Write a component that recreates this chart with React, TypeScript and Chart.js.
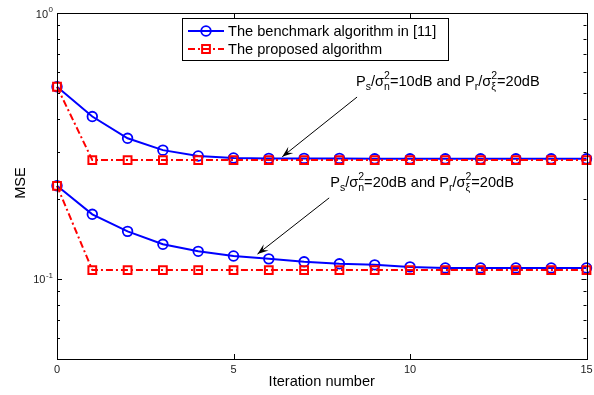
import React, { useEffect, useRef } from 'react';
import { Chart, registerables } from 'chart.js';

Chart.register(...registerables);

// ---- data ----
const iterations = [0, 1, 2, 3, 4, 5, 6, 7, 8, 9, 10, 11, 12, 13, 14, 15];
const benchmark10 = [0.528, 0.408, 0.338, 0.305, 0.29, 0.285, 0.284, 0.284, 0.284, 0.283, 0.283, 0.283, 0.283, 0.283, 0.283, 0.283];
const proposed10 = [0.528, 0.28, 0.28, 0.28, 0.28, 0.28, 0.28, 0.28, 0.28, 0.28, 0.28, 0.28, 0.28, 0.28, 0.28, 0.28];
const benchmark20 = [0.224, 0.175, 0.151, 0.135, 0.127, 0.122, 0.119, 0.116, 0.114, 0.113, 0.111, 0.11, 0.11, 0.11, 0.11, 0.11];
const proposed20 = [0.224, 0.108, 0.108, 0.108, 0.108, 0.108, 0.108, 0.108, 0.108, 0.108, 0.108, 0.108, 0.108, 0.108, 0.108, 0.108];

const xTickValues = [0, 5, 10, 15];
const yMajorTicks = [0.1, 1];
const yMajorExponents = ['-1', '0'];
const yMinorTicks = [0.05, 0.06, 0.07, 0.08, 0.09, 0.2, 0.3, 0.4, 0.5, 0.6, 0.7, 0.8, 0.9];
const legendLabels = ['The benchmark algorithm in [11]', 'The proposed algorithm'];
const xTitle = 'Iteration number';
const yTitle = 'MSE';

type Part = { t?: string; sub?: string; sup?: string };
const annotation10: Part[] = [
  { t: 'P' }, { sub: 's' }, { t: '/σ' }, { sup: '2', sub: 'n' },
  { t: '=10dB and P' }, { sub: 'r' }, { t: '/σ' }, { sup: '2', sub: 'ξ' }, { t: '=20dB' },
];
const annotation20: Part[] = [
  { t: 'P' }, { sub: 's' }, { t: '/σ' }, { sup: '2', sub: 'n' },
  { t: '=20dB and P' }, { sub: 'r' }, { t: '/σ' }, { sup: '2', sub: 'ξ' }, { t: '=20dB' },
];
// annotation anchors in data coordinates
const annotations = [
  { parts: annotation10, text: [8.47, 0.532], tail: [8.5, 0.483], tip: [6.38, 0.288] },
  { parts: annotation20, text: [7.74, 0.222], tail: [7.71, 0.2017], tip: [5.68, 0.124] },
];

const FONT = '"Liberation Sans", Arial, Helvetica, sans-serif';
const BLUE = '#0000ff';
const RED = '#ff0000';
const DASHDOT = [7, 3, 2, 3];

function drawRich(ctx: CanvasRenderingContext2D, parts: Part[], x: number, y: number) {
  const main = `14.6px ${FONT}`;
  const small = `10.5px ${FONT}`;
  ctx.fillStyle = '#000';
  ctx.textAlign = 'left';
  ctx.textBaseline = 'alphabetic';
  let cx = x;
  for (const p of parts) {
    if (p.t) {
      ctx.font = main;
      ctx.fillText(p.t, cx, y);
      cx += ctx.measureText(p.t).width;
    } else {
      ctx.font = small;
      let w = 0;
      if (p.sup) {
        ctx.fillText(p.sup, cx, y - 6.5);
        w = Math.max(w, ctx.measureText(p.sup).width);
      }
      if (p.sub) {
        ctx.fillText(p.sub, cx, y + 4);
        w = Math.max(w, ctx.measureText(p.sub).width);
      }
      cx += w;
    }
  }
}

function drawArrow(ctx: CanvasRenderingContext2D, x1: number, y1: number, x2: number, y2: number) {
  ctx.save();
  ctx.strokeStyle = '#000';
  ctx.fillStyle = '#000';
  ctx.lineWidth = 1;
  ctx.beginPath();
  ctx.moveTo(x1, y1);
  ctx.lineTo(x2, y2);
  ctx.stroke();
  const ang = Math.atan2(y2 - y1, x2 - x1);
  const len = 11;
  const half = 4;
  const bx = x2 - len * Math.cos(ang);
  const by = y2 - len * Math.sin(ang);
  const nx = -Math.sin(ang);
  const ny = Math.cos(ang);
  const ix = x2 - len * 0.6 * Math.cos(ang);
  const iy = y2 - len * 0.6 * Math.sin(ang);
  ctx.beginPath();
  ctx.moveTo(x2, y2);
  ctx.lineTo(bx + nx * half, by + ny * half);
  ctx.lineTo(ix, iy);
  ctx.lineTo(bx - nx * half, by - ny * half);
  ctx.closePath();
  ctx.fill();
  ctx.restore();
}

const decor = {
  id: 'matlabDecor',
  afterDraw(chart: any) {
    const ctx: CanvasRenderingContext2D = chart.ctx;
    const { left, right, top, bottom } = chart.chartArea;
    const xs = chart.scales.x;
    const ys = chart.scales.y;
    ctx.save();
    // box
    ctx.strokeStyle = '#000';
    ctx.lineWidth = 1;
    ctx.setLineDash([]);
    ctx.strokeRect(Math.round(left) + 0.5, Math.round(top) + 0.5, Math.round(right - left), Math.round(bottom - top));
    // ticks
    ctx.beginPath();
    for (const v of xTickValues) {
      const px = Math.round(xs.getPixelForValue(v)) + 0.5;
      ctx.moveTo(px, bottom);
      ctx.lineTo(px, bottom - 5);
      ctx.moveTo(px, top);
      ctx.lineTo(px, top + 5);
    }
    for (const v of yMajorTicks) {
      const py = Math.round(ys.getPixelForValue(v)) + 0.5;
      ctx.moveTo(left, py);
      ctx.lineTo(left + 5, py);
      ctx.moveTo(right, py);
      ctx.lineTo(right - 5, py);
    }
    for (const v of yMinorTicks) {
      const py = Math.round(ys.getPixelForValue(v)) + 0.5;
      ctx.moveTo(left, py);
      ctx.lineTo(left + 3, py);
      ctx.moveTo(right, py);
      ctx.lineTo(right - 3, py);
    }
    ctx.stroke();
    // tick labels
    ctx.fillStyle = '#222';
    ctx.font = `11px ${FONT}`;
    ctx.textAlign = 'center';
    ctx.textBaseline = 'top';
    for (const v of xTickValues) {
      ctx.fillText(String(v), xs.getPixelForValue(v), bottom + 5);
    }
    yMajorTicks.forEach((v, i) => {
      const py = ys.getPixelForValue(v);
      ctx.font = `8px ${FONT}`;
      const ew = ctx.measureText(yMajorExponents[i]).width;
      ctx.textAlign = 'left';
      ctx.textBaseline = 'alphabetic';
      const xEnd = left - 4;
      ctx.fillText(yMajorExponents[i], xEnd - ew, py - 1);
      ctx.font = `11px ${FONT}`;
      ctx.textAlign = 'right';
      ctx.textBaseline = 'middle';
      ctx.fillText('10', xEnd - ew - 0.5, py + 1.5);
    });
    // axis titles
    ctx.fillStyle = '#000';
    ctx.font = `14.6px ${FONT}`;
    ctx.textAlign = 'center';
    ctx.textBaseline = 'middle';
    ctx.fillText(xTitle, (left + right) / 2, bottom + 23);
    ctx.save();
    ctx.translate(21, (top + bottom) / 2 - 3);
    ctx.rotate(-Math.PI / 2);
    ctx.fillText(yTitle, 0, 0);
    ctx.restore();

    // legend
    const lx = 182, ly = 18, lw = 266, lh = 42;
    ctx.fillStyle = '#fff';
    ctx.fillRect(lx, ly, lw, lh);
    ctx.strokeStyle = '#000';
    ctx.lineWidth = 1;
    ctx.strokeRect(lx + 0.5, ly + 0.5, lw, lh);
    const dsets = chart.data.datasets;
    legendLabels.forEach((label, i) => {
      const ds = dsets[i];
      const ry = ly + 13 + i * 18;
      ctx.save();
      ctx.strokeStyle = ds.borderColor;
      ctx.lineWidth = ds.borderWidth;
      ctx.setLineDash(ds.borderDash || []);
      ctx.beginPath();
      ctx.moveTo(lx + 6, ry);
      ctx.lineTo(lx + 42, ry);
      ctx.stroke();
      ctx.setLineDash([]);
      ctx.lineWidth = ds.pointBorderWidth;
      ctx.beginPath();
      const mx = lx + 24;
      if (ds.pointStyle === 'rect') {
        const h = ds.pointRadius * Math.SQRT1_2;
        ctx.rect(mx - h, ry - h, 2 * h, 2 * h);
      } else {
        ctx.arc(mx, ry, ds.pointRadius, 0, Math.PI * 2);
      }
      ctx.stroke();
      ctx.restore();
      ctx.fillStyle = '#000';
      ctx.font = `14.6px ${FONT}`;
      ctx.textAlign = 'left';
      ctx.textBaseline = 'middle';
      ctx.fillText(label, lx + 46, ry + 1);
    });

    // annotations
    for (const a of annotations) {
      drawArrow(
        ctx,
        xs.getPixelForValue(a.tail[0]), ys.getPixelForValue(a.tail[1]),
        xs.getPixelForValue(a.tip[0]), ys.getPixelForValue(a.tip[1]),
      );
      drawRich(ctx, a.parts, xs.getPixelForValue(a.text[0]), ys.getPixelForValue(a.text[1]));
    }
    ctx.restore();
  },
};

function pts(vals: number[]) {
  return iterations.map((x, i) => ({ x, y: vals[i] }));
}

const benchStyle = {
  borderColor: BLUE,
  borderWidth: 2,
  pointStyle: 'circle',
  pointRadius: 4.8,
  pointBorderWidth: 1.8,
  pointBorderColor: BLUE,
  pointBackgroundColor: 'rgba(0,0,0,0)',
  backgroundColor: 'rgba(0,0,0,0)',
  clip: false,
  order: 1,
};
const propStyle = {
  borderColor: RED,
  borderWidth: 2,
  borderDash: DASHDOT,
  pointStyle: 'rect',
  pointRadius: 5.5,
  pointBorderWidth: 2,
  pointBorderColor: RED,
  pointBackgroundColor: 'rgba(0,0,0,0)',
  backgroundColor: 'rgba(0,0,0,0)',
  clip: false,
  order: 0,
};

export default function App() {
  const ref = useRef<HTMLCanvasElement>(null);
  useEffect(() => {
    if (!ref.current) return;
    const chart = new Chart(ref.current, {
      type: 'line',
      data: {
        datasets: [
          { label: legendLabels[0], data: pts(benchmark10), ...benchStyle } as any,
          { label: legendLabels[1], data: pts(proposed10), ...propStyle } as any,
          { label: legendLabels[0] + ' (20dB)', data: pts(benchmark20), ...benchStyle } as any,
          { label: legendLabels[1] + ' (20dB)', data: pts(proposed20), ...propStyle } as any,
        ],
      },
      options: {
        responsive: false,
        animation: false,
        devicePixelRatio: 1,
        layout: { padding: { left: 57, right: 6, top: 13, bottom: 36 } },
        plugins: { legend: { display: false }, tooltip: { enabled: false } },
        elements: { line: { tension: 0 } },
        scales: {
          x: { type: 'linear', min: 0, max: 15, display: false },
          y: { type: 'logarithmic', min: 0.05, max: 1, display: false },
        },
      },
      plugins: [decor],
    });
    return () => chart.destroy();
  }, []);
  return (
    <div style={{ position: 'fixed', left: 0, top: 0, width: 594, height: 395, background: '#fff' }}>
      <canvas ref={ref} width={594} height={395} />
    </div>
  );
}
